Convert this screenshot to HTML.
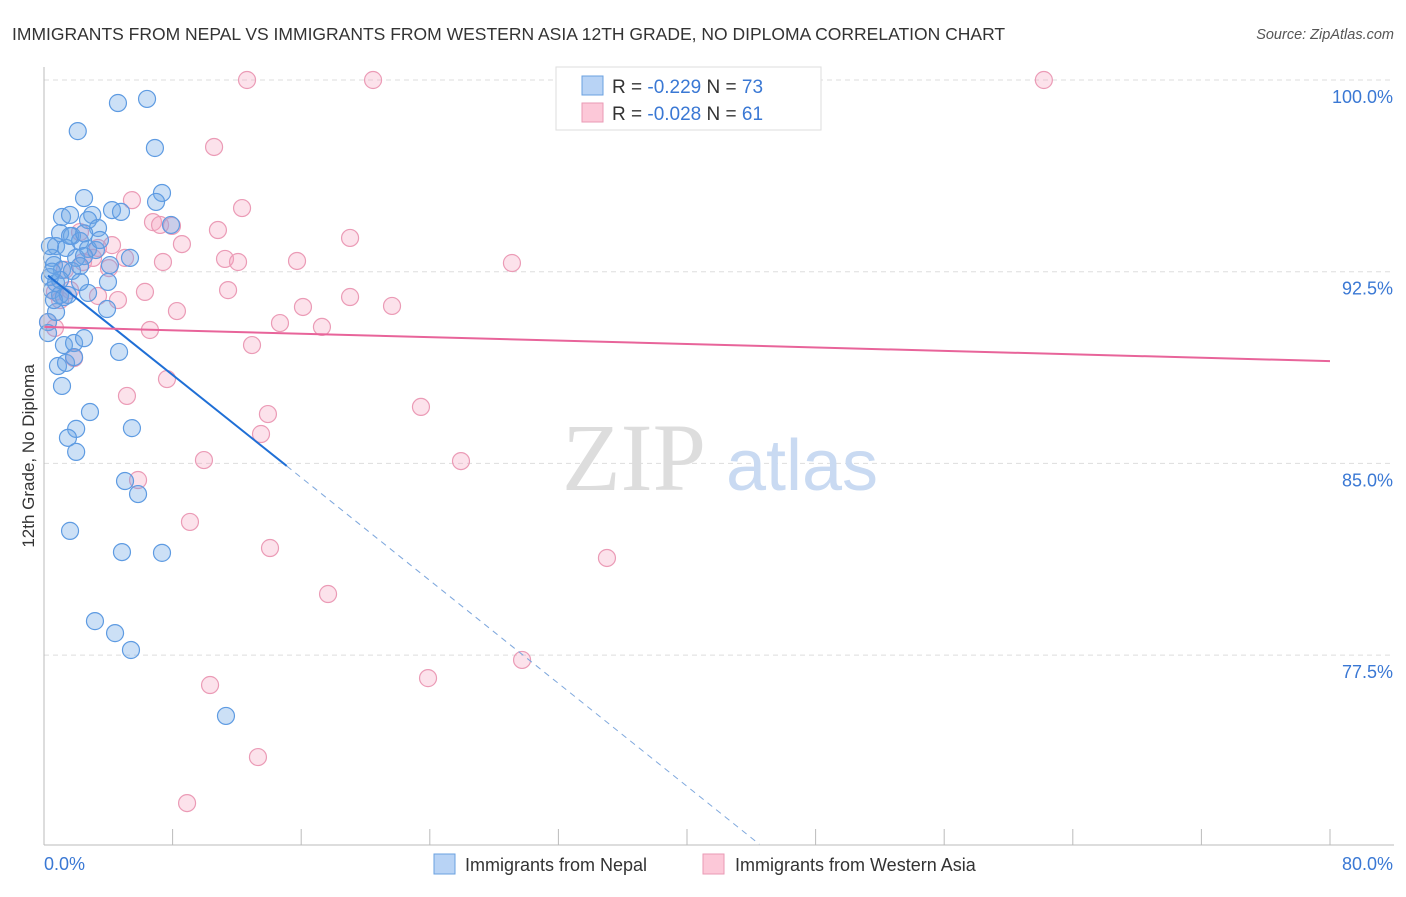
<!DOCTYPE html>
<html><head><meta charset="utf-8"><style>
body{margin:0;background:#fff;font-family:"Liberation Sans",sans-serif}
</style></head><body>
<svg id="chart" width="1406" height="892" xmlns="http://www.w3.org/2000/svg" style="font-family:'Liberation Sans',sans-serif">
<text x="12" y="40" font-size="17.5" fill="#333">IMMIGRANTS FROM NEPAL VS IMMIGRANTS FROM WESTERN ASIA 12TH GRADE, NO DIPLOMA CORRELATION CHART</text>
<text x="1394" y="39" font-size="14.5" fill="#555" text-anchor="end" font-style="italic">Source: ZipAtlas.com</text>
<text transform="translate(34,456) rotate(-90)" font-size="17" fill="#333" text-anchor="middle">12th Grade, No Diploma</text>
<g id="grid"></g>
<g>
<text x="634" y="490" font-size="96" fill="#ddd" text-anchor="middle" font-family="'Liberation Serif',serif">ZIP</text>
<text x="802" y="490" font-size="72" fill="#c9daf2" text-anchor="middle">atlas</text>
</g>
<g id="pts"></g>
<g id="lines"></g>
<g id="ticks"></g>
<g>
<rect x="556" y="67" width="265" height="63" fill="#fff" stroke="#ddd"/>
<rect x="582" y="76" width="21" height="19" fill="#b8d3f5" stroke="#6aa0e0"/>
<rect x="582" y="103" width="21" height="19" fill="#fcc8d8" stroke="#ea9ab5"/>
<text x="612" y="93" font-size="19" fill="#333">R = <tspan fill="#3a78d4">-0.229</tspan>   N = <tspan fill="#3a78d4">73</tspan></text>
<text x="612" y="120" font-size="19" fill="#333">R = <tspan fill="#3a78d4">-0.028</tspan>   N = <tspan fill="#3a78d4"> 61</tspan></text>
</g>
<g>
<rect x="434" y="854" width="21" height="20" fill="#b8d3f5" stroke="#6aa0e0"/>
<text x="465" y="871" font-size="18" fill="#333">Immigrants from Nepal</text>
<rect x="703" y="854" width="21" height="20" fill="#fcc8d8" stroke="#ea9ab5"/>
<text x="735" y="871" font-size="18" fill="#333">Immigrants from Western Asia</text>
</g>
</svg>
<script>
const blueX=[4.6,6.41,2.1,6.9,2.49,7.34,4.23,4.79,6.97,7.9,1.12,1.62,3.0,2.74,3.36,1.0,1.74,2.24,0.75,1.37,2.74,3.23,0.5,2.0,2.49,5.35,0.62,1.12,1.74,2.24,0.37,0.75,0.5,1.0,1.24,1.49,2.74,3.98,0.25,0.75,3.92,1.24,1.87,2.49,0.25,0.87,1.37,1.87,4.67,1.12,2.86,2.0,1.49,5.47,2.0,5.04,5.85,1.62,4.85,7.34,3.17,4.42,5.41,11.32,0.62,1.0,3.48,4.1,2.24,0.37,1.62,2.5,0.5];
const blueY=[99.1,99.26,98.0,97.34,95.38,95.58,94.91,94.84,95.23,94.33,94.64,94.72,94.72,94.52,94.21,94.01,93.9,93.7,93.5,93.43,93.39,93.35,93.04,93.04,93.11,93.04,92.76,92.57,92.53,92.72,92.29,92.06,91.78,91.59,91.51,91.59,91.67,92.1,90.53,90.92,91.04,89.63,89.71,89.9,90.1,88.81,88.93,89.16,89.36,88.03,87.01,86.35,86.0,86.38,85.45,84.31,83.8,82.36,81.53,81.5,78.83,78.36,77.7,75.12,91.39,92.18,93.74,92.76,92.1,93.5,93.9,94.0,92.5];
const pinkX=[12.63,20.47,44.1,62.2,10.58,5.47,12.32,6.78,7.22,7.96,10.82,19.04,4.23,3.36,8.58,2.43,3.05,4.04,5.04,7.4,11.26,12.07,15.74,29.11,11.45,6.28,3.36,4.6,16.11,19.04,21.65,8.27,14.68,17.29,6.59,0.25,0.68,12.94,1.87,7.65,5.16,23.45,13.93,13.5,9.95,25.94,5.85,9.08,14.06,35.02,17.67,29.74,10.33,23.89,13.31,8.9,0.68,1.0,1.62,1.3,2.24];
const pinkY=[100,100,100,100,97.38,95.3,94.99,94.44,94.33,94.29,94.13,93.82,93.54,93.43,93.58,92.88,93.04,92.64,93.04,92.88,93.0,92.88,92.92,92.84,91.78,91.71,91.55,91.39,91.12,91.51,91.16,90.96,90.49,90.34,90.22,90.53,90.3,89.63,89.12,88.3,87.64,87.21,86.93,86.15,85.13,85.09,84.35,82.71,81.69,81.3,79.89,77.31,76.33,76.6,73.51,71.71,91.71,91.39,91.78,92.57,94.05];
const blueLineX=[0.25,15.1,44.5];
const blueLineY=[92.35,84.9,70.1];
const pinkLineX=[0,80];
const pinkLineY=[90.34,89.0];
const yTicks=[100,92.5,85,77.5];
const yTickLabels=["100.0%","92.5%","85.0%","77.5%"];
const xTicks=[0,8,16,24,32,40,48,56,64,72,80];
const NS="http://www.w3.org/2000/svg";
const X=v=>44+v*16.075, Y=v=>80+(100-v)*25.56;
function mk(tag,attrs,parent){const e=document.createElementNS(NS,tag);for(const k in attrs)e.setAttribute(k,attrs[k]);parent.appendChild(e);return e;}
const grid=document.getElementById('grid'),pts=document.getElementById('pts'),lines=document.getElementById('lines'),ticks=document.getElementById('ticks');
yTicks.forEach((t,i)=>{
 const l=mk('line',{x1:44,x2:1394,y1:Y(t),y2:Y(t),stroke:'#ddd','stroke-dasharray':'5,4'},grid);
 
 
 const tx=mk('text',{x:1393,y:Y(t)+23,'font-size':18,fill:'#3a78d4','text-anchor':'end'},ticks);
 tx.textContent=yTickLabels[i];
 
 
});
const ya=mk('line',{x1:44,x2:44,y1:67,y2:845,stroke:'#bbb'},ticks);


const xa=mk('line',{x1:44,x2:1394,y1:845,y2:845,stroke:'#bbb'},ticks);


xTicks.forEach(t=>{
 const l=mk('line',{x1:X(t),x2:X(t),y1:829,y2:845,stroke:'#bbb'},ticks);
 
 
});
const x0=mk('text',{x:44,y:870,'font-size':18,fill:'#3a78d4'},ticks);x0.textContent='0.0%';


const x1=mk('text',{x:1393,y:870,'font-size':18,fill:'#3a78d4','text-anchor':'end'},ticks);x1.textContent='80.0%';


pinkX.forEach((v,i)=>{
 const c=mk('circle',{cx:X(v),cy:Y(pinkY[i]),r:8.5,fill:'rgba(246,160,188,0.3)',stroke:'#eb9bb6','stroke-width':1.2},pts);
 
 
});
blueX.forEach((v,i)=>{
 const c=mk('circle',{cx:X(v),cy:Y(blueY[i]),r:8.5,fill:'rgba(110,165,230,0.35)',stroke:'#5e9be2','stroke-width':1.2},pts);
 
 
});
const b1=mk('line',{x1:X(blueLineX[0]),y1:Y(blueLineY[0]),x2:X(blueLineX[1]),y2:Y(blueLineY[1]),stroke:'#1f6fd6','stroke-width':2},lines);


const b2=mk('line',{x1:X(blueLineX[1]),y1:Y(blueLineY[1]),x2:X(blueLineX[2]),y2:Y(blueLineY[2]),stroke:'#7fa8dd','stroke-width':1,'stroke-dasharray':'6,5'},lines);


const p1=mk('line',{x1:X(pinkLineX[0]),y1:Y(pinkLineY[0]),x2:X(pinkLineX[1]),y2:Y(pinkLineY[1]),stroke:'#e8649a','stroke-width':2},lines);


</script>
</body></html>
